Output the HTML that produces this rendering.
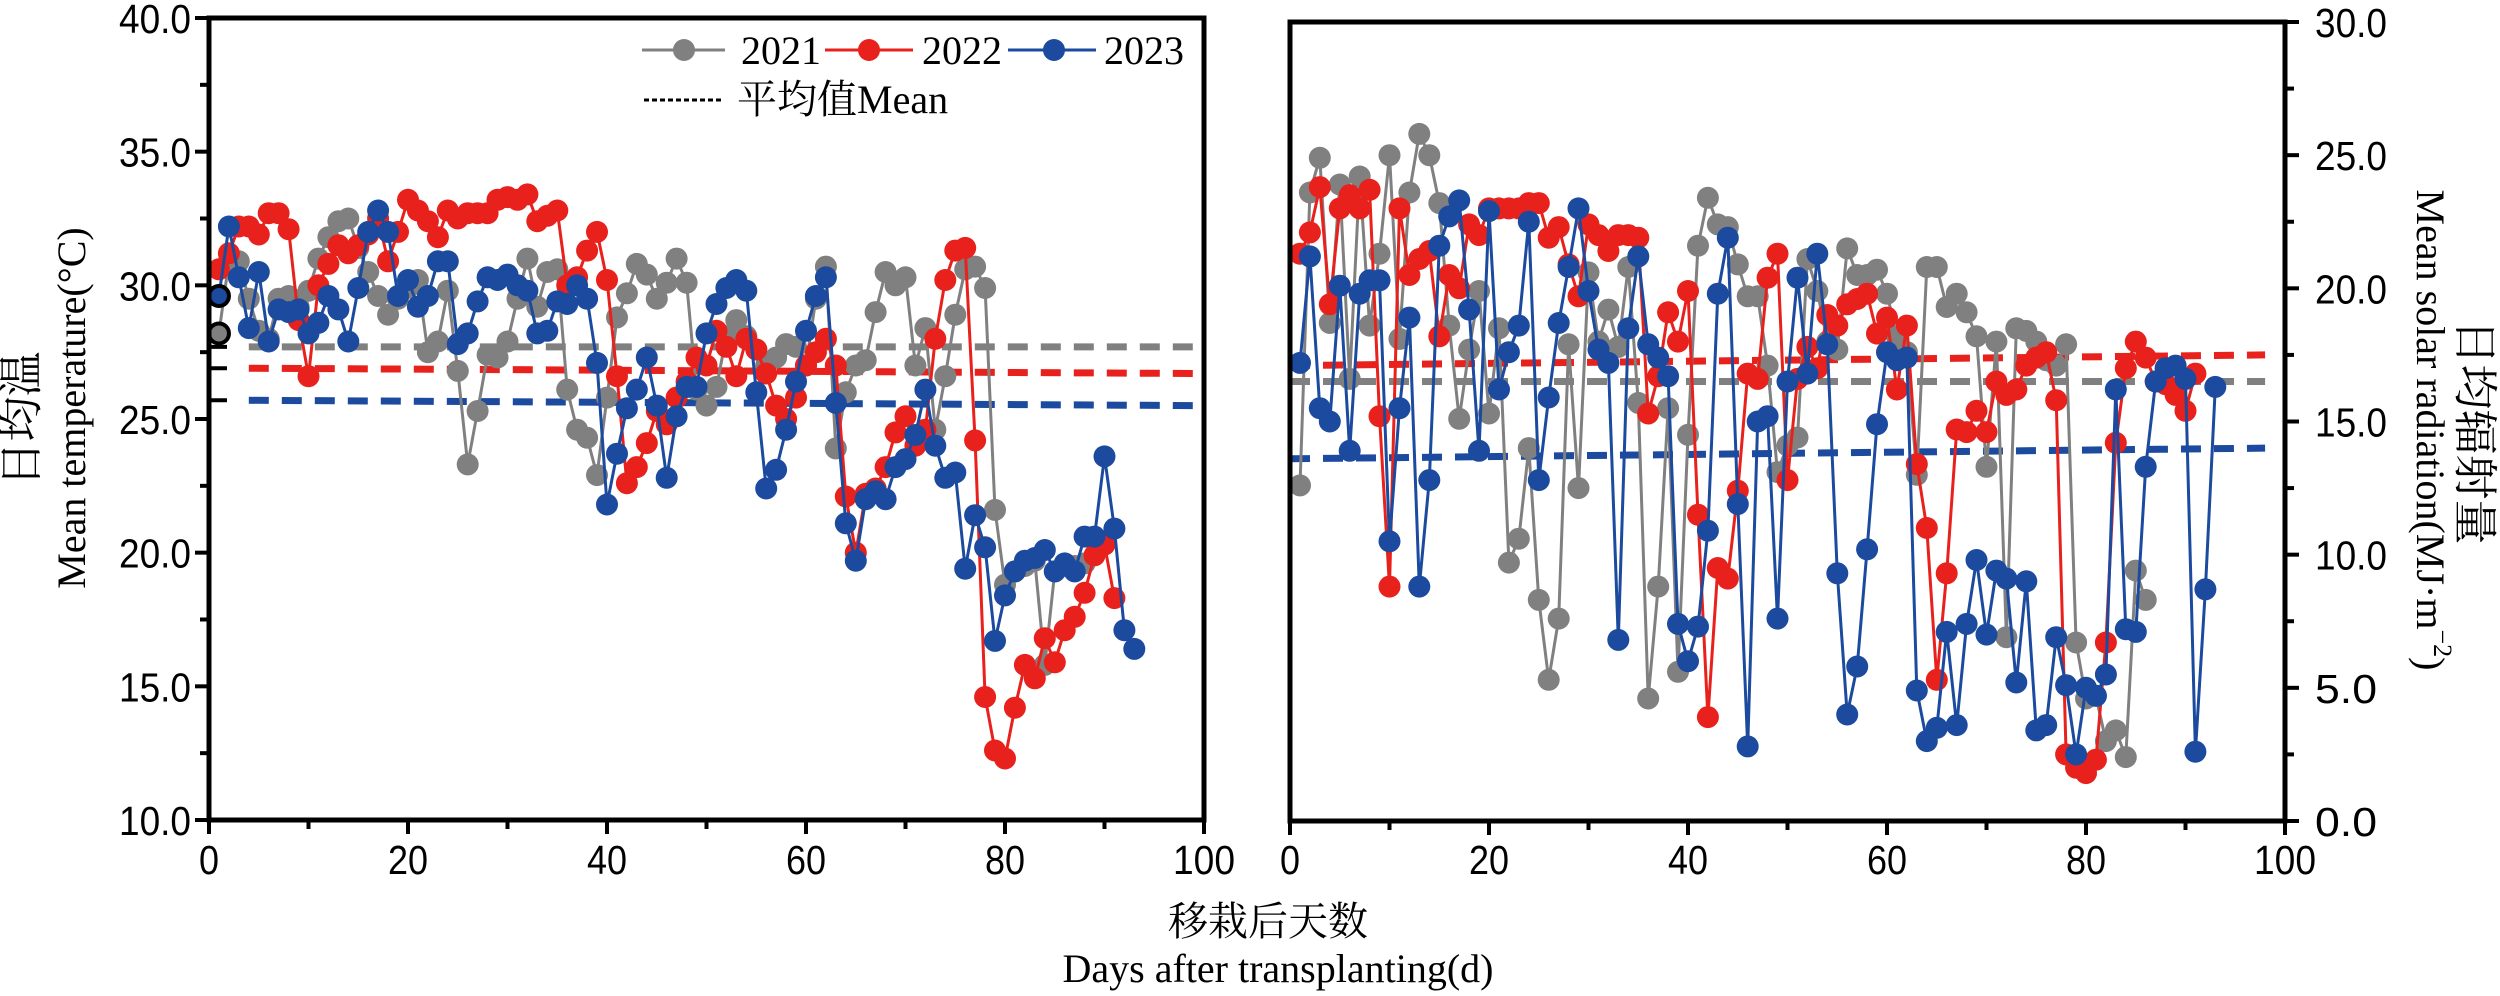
<!DOCTYPE html>
<html><head><meta charset="utf-8">
<style>
html,body{margin:0;padding:0;background:#fff;}
svg{display:block;}
text{font-family:"Liberation Sans","Noto Sans CJK SC",sans-serif;}
.serif{font-family:"Liberation Serif","Noto Serif CJK SC","Noto Sans CJK SC",serif;}
</style></head><body>
<svg id="s" width="2500" height="996" viewBox="0 0 2500 996" xmlns="http://www.w3.org/2000/svg">
<g id="g"></g>
<text class="serif" x="26" y="419" font-size="45" text-anchor="middle" dominant-baseline="middle" transform="rotate(-90 26 419)">日均温</text>
<text class="serif" x="76" y="408" font-size="40" text-anchor="middle" dominant-baseline="middle" transform="rotate(-90 76 408)">Mean temperature(°C)</text>
<text class="serif" x="2426" y="430" font-size="40" text-anchor="middle" dominant-baseline="middle" transform="rotate(90 2426 430)">Mean solar radiation(MJ·m<tspan dy="-14" font-size="26">−2</tspan><tspan dy="14">)</tspan></text>
<text class="serif" x="2470" y="432" font-size="45" text-anchor="middle" dominant-baseline="middle" transform="rotate(90 2470 432)">日均辐射量</text>
<text class="serif" x="1268" y="935" font-size="40" text-anchor="middle">移栽后天数</text>
<text class="serif" x="1278" y="982" font-size="40" text-anchor="middle">Days after transplanting(d)</text>
</svg>
<script>
const G=document.getElementById('g');
let h='';
const GR='#808080',RD='#e8211c',BL='#1b4a9e';
const T21=[28.2,30.9,30.9,29.5,28.3,28.0,29.5,29.6,29.2,29.8,31.0,31.8,32.4,32.5,31.4,30.5,29.6,28.9,29.5,29.9,30.2,27.5,27.9,29.8,26.8,23.3,25.3,27.4,27.3,27.9,29.5,31.0,29.2,30.5,30.6,26.1,24.6,24.3,22.9,25.8,28.8,29.7,30.8,30.4,29.5,30.1,31.0,30.1,26.1,25.5,26.2,28.1,28.7,28.1,27.6,27.0,27.3,27.8,27.7,27.0,29.5,30.7,23.9,26.0,27.0,27.2,29.0,30.5,30.0,30.3,27.0,28.4,24.6,26.6,28.9,30.6,30.7,29.9,21.6,18.8,19.3,19.5,19.7,15.8,19.3,19.5,19.5,19.6];
const T22=[30.6,31.2,32.2,32.2,31.9,32.7,32.7,32.1,28.7,26.6,30.0,30.8,31.5,31.2,31.5,31.9,32.5,30.9,32.0,33.2,32.8,32.4,31.8,32.8,32.5,32.7,32.7,32.7,33.2,33.3,33.2,33.4,32.4,32.6,32.8,30.0,30.3,31.3,32.0,30.2,26.6,22.6,23.2,24.1,25.3,24.8,25.8,26.4,27.3,27.0,28.3,27.7,26.6,28.0,27.6,26.7,25.5,25.0,25.8,27.0,27.5,28.0,27.0,22.1,20.0,22.2,22.4,23.2,24.5,25.1,24.0,24.6,28.0,30.2,31.3,31.4,24.2,14.6,12.6,12.3,14.2,15.8,15.3,16.8,15.9,17.1,17.6,18.5,19.9,20.3,18.3];
const T23=[29.6,32.2,30.3,28.4,30.5,27.9,29.1,29.0,29.1,28.2,28.6,29.6,29.1,27.9,29.9,32.0,32.8,32.0,29.6,30.2,29.2,29.6,30.9,30.9,27.8,28.2,29.4,30.3,30.2,30.4,30.0,29.8,28.2,28.3,29.4,29.3,30.0,29.5,27.1,21.8,23.7,25.4,26.1,27.3,25.5,22.8,25.1,26.2,26.2,28.2,29.3,29.9,30.2,29.8,26.0,22.4,23.1,24.6,26.4,28.3,29.6,30.3,25.6,21.1,19.7,22.0,22.3,22.0,23.2,23.5,24.4,26.1,24.0,22.8,23.0,19.4,21.4,20.2,16.7,18.4,19.3,19.7,19.8,20.1,19.3,19.6,19.3,20.6,20.6,23.6,20.9,17.1,16.4];
const R21=[12.6,23.6,24.9,18.7,23.9,16.6,24.2,18.6,21.3,25.0,18.1,23.6,25.8,25.0,23.2,18.6,15.1,17.7,19.9,15.3,18.5,9.7,10.6,14.0,8.3,5.3,7.6,17.9,12.5,20.6,18.0,19.2,17.8,20.8,15.7,4.6,8.8,15.5,5.6,14.5,21.6,23.4,22.4,22.3,20.9,19.7,19.7,17.1,13.1,14.1,14.4,21.1,19.9,18.0,17.7,21.5,20.5,20.5,20.7,19.8,18.2,17.6,13.0,20.8,20.8,19.3,19.8,19.1,18.2,13.3,18.0,6.9,18.5,18.4,18.0,17.3,17.1,17.9,6.7,4.6,4.7,3.0,3.4,2.4,9.4,8.3];
const R22=[21.3,22.1,23.8,19.4,23.0,23.5,23.0,23.7,15.2,8.8,23.0,20.5,21.1,21.4,18.2,20.5,20.0,22.4,22.0,23.0,23.0,23.0,23.0,23.2,23.2,21.9,22.3,20.9,19.7,22.4,22.0,21.4,22.0,22.0,21.9,15.3,16.7,19.1,18.0,19.9,11.5,3.9,9.5,9.1,12.4,16.8,16.6,20.4,21.3,12.8,16.6,17.8,17.0,19.0,18.6,19.4,19.6,19.8,18.3,18.9,16.2,18.6,13.4,11.0,5.3,9.3,14.7,14.6,15.4,14.6,16.5,16.0,16.2,17.1,17.4,17.6,15.8,2.5,2.0,1.8,2.3,6.7,14.2,17.0,18.0,17.4,16.5,16.4,16.0,15.4,16.8];
const R23=[17.2,21.2,15.5,15.0,20.1,13.9,19.8,20.3,20.3,10.5,15.5,18.9,8.8,12.8,21.6,22.7,23.3,19.2,13.9,22.9,16.2,17.6,18.6,22.5,12.8,15.9,18.7,20.8,23.0,19.9,17.7,17.2,6.8,18.5,21.2,17.9,17.4,16.7,7.4,6.0,7.3,10.9,19.8,21.9,11.9,2.8,15.0,15.2,7.6,16.5,20.4,16.8,21.3,17.9,9.3,4.0,5.8,10.2,14.9,17.6,17.3,17.4,4.9,3.0,3.5,7.1,3.6,7.4,9.8,7.0,9.4,9.1,5.2,9.0,3.4,3.6,6.9,5.1,2.5,5.0,4.7,5.5,16.2,7.2,7.1,13.3,16.5,17.0,17.1,16.6,2.6,8.7,16.3];
const LX=d=>209+d*9.95, LY=t=>18+(40-t)*26.733;
const RX=d=>1290+d*9.95, RY=r=>22+(30-r)*26.633;
function series(arr,X,Y,c){
  let p=arr.map((v,i)=>X(i+1).toFixed(1)+','+Y(v).toFixed(1)).join(' ');
  h+=`<polyline points="${p}" fill="none" stroke="${c}" stroke-width="3"/>`;
  arr.forEach((v,i)=>{h+=`<circle cx="${X(i+1).toFixed(1)}" cy="${Y(v).toFixed(1)}" r="11" fill="${c}"/>`;});
}
function dash(x1,y1,x2,y2,c){h+=`<line x1="${x1}" y1="${y1}" x2="${x2}" y2="${y2}" stroke="${c}" stroke-width="7" stroke-dasharray="20,13"/>`;}
function tl(x,y,s,anchor){const w={1:20,2:40,3:62,4:72}[s.length];return `<text x="${x}" y="${y}" font-size="41" text-anchor="${anchor}" textLength="${w}" lengthAdjust="spacingAndGlyphs">${s}</text>`;}
dash(LX(4),LY(27.7),1204,LY(27.7),GR);
dash(LX(4),LY(26.9),1204,LY(26.7),RD);
dash(LX(4),LY(25.7),1204,LY(25.5),BL);
series(T21,LX,LY,GR);series(T22,LX,LY,RD);series(T23,LX,LY,BL);
[28.2,29.6].forEach(v=>{h+=`<circle cx="${LX(1)}" cy="${LY(v)}" r="10" fill="none" stroke="#000" stroke-width="4"/>`;});
[27.7,26.9,25.7].forEach(v=>{h+=`<line x1="209" y1="${LY(v)}" x2="227" y2="${LY(v)}" stroke="#000" stroke-width="4"/>`;});
h+=`<rect x="209" y="18" width="995" height="802" fill="none" stroke="#000" stroke-width="5"/>`;
for(let t=10;t<=40;t+=2.5){const y=LY(t);const maj=(t%5==0);
  h+=`<line x1="${maj?195:200}" y1="${y}" x2="209" y2="${y}" stroke="#000" stroke-width="4"/>`;
  if(maj)h+=tl(191,y+15,t.toFixed(1),'end');}
for(let d=0;d<=100;d+=10){const x=LX(d);const maj=d%20==0;
  h+=`<line x1="${x}" y1="820" x2="${x}" y2="${maj?834:829}" stroke="#000" stroke-width="4"/>`;
  if(maj)h+=tl(x,874,String(d),'middle');}
h+=`<line x1="642" y1="50" x2="725" y2="50" stroke="${GR}" stroke-width="3"/><circle cx="684" cy="50" r="11" fill="${GR}"/>`;
h+=`<text class="serif" x="741" y="64" font-size="40">2021</text>`;
h+=`<line x1="825" y1="50" x2="913" y2="50" stroke="${RD}" stroke-width="3"/><circle cx="869" cy="50" r="11" fill="${RD}"/>`;
h+=`<text class="serif" x="922" y="64" font-size="40">2022</text>`;
h+=`<line x1="1008" y1="50" x2="1096" y2="50" stroke="${BL}" stroke-width="3"/><circle cx="1054" cy="50" r="11" fill="${BL}"/>`;
h+=`<text class="serif" x="1104" y="64" font-size="40">2023</text>`;
h+=`<line x1="644" y1="100" x2="724" y2="100" stroke="#000" stroke-width="3" stroke-dasharray="5,3"/>`;
h+=`<text class="serif" x="737" y="113" font-size="40">平均值Mean</text>`;
dash(1290,RY(17.1),RX(98),RY(17.5),RD);
dash(1290,RY(16.5),RX(98),RY(16.5),GR);
dash(1290,RY(13.6),RX(98),RY(14.0),BL);
series(R21,RX,RY,GR);series(R22,RX,RY,RD);series(R23,RX,RY,BL);
h+=`<rect x="1290" y="22" width="995" height="799" fill="none" stroke="#000" stroke-width="5"/>`;
for(let r=0;r<=30;r+=2.5){const y=RY(r);const maj=(r%5==0);
  h+=`<line x1="2285" y1="${y}" x2="${maj?2299:2294}" y2="${y}" stroke="#000" stroke-width="4"/>`;
  if(maj)h+=tl(2315,y+15,r.toFixed(1),'start');}
for(let d=0;d<=100;d+=10){const x=RX(d);const maj=d%20==0;
  h+=`<line x1="${x}" y1="821" x2="${x}" y2="${maj?835:830}" stroke="#000" stroke-width="4"/>`;
  if(maj)h+=tl(x,874,String(d),'middle');}
G.innerHTML=h;
</script>
</body></html>
